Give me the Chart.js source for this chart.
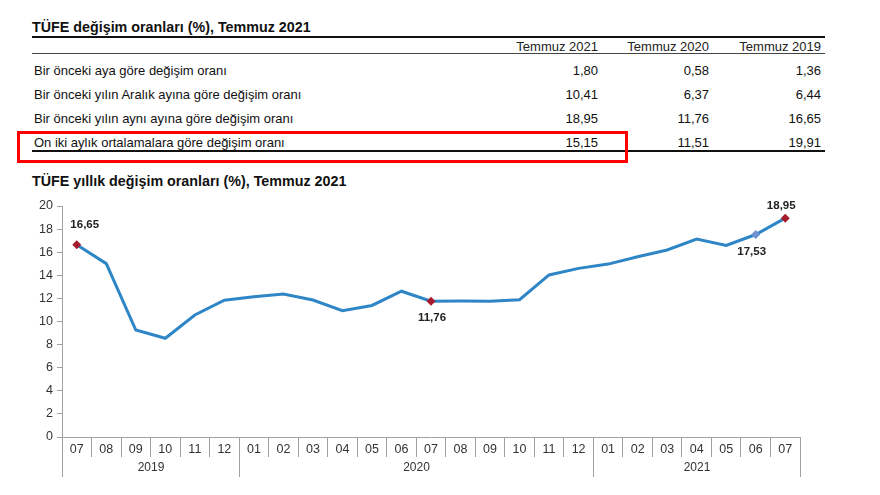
<!DOCTYPE html>
<html><head><meta charset="utf-8">
<script src="https://cdn.jsdelivr.net/npm/chart.js@4.4.1/dist/chart.umd.min.js"></script>
<style>
html,body{margin:0;padding:0;background:#fff}
body{width:880px;height:495px;overflow:hidden;position:relative;font-family:"Liberation Sans",Arial,sans-serif;color:#111}
.a{position:absolute;white-space:nowrap}
.t{font-size:13px;line-height:15px}
.r{text-align:right;width:120px}
.b{font-weight:bold;font-size:14.3px;line-height:17px}
</style></head><body>
<div id="tbl"></div>
<div class="a" style="left:0;top:190px;width:880px;height:305px"><canvas id="c"></canvas></div>
<script>
const tableTitle = 'TÜFE değişim oranları (%), Temmuz 2021';
const tableCols = ['Temmuz 2021', 'Temmuz 2020', 'Temmuz 2019'];
const tableRows = [
  'Bir önceki aya göre değişim oranı',
  'Bir önceki yılın Aralık ayına göre değişim oranı',
  'Bir önceki yılın aynı ayına göre değişim oranı',
  'On iki aylık ortalamalara göre değişim oranı'
];
const rowValues2021 = [1.80, 10.41, 18.95, 15.15];
const rowValues2020 = [0.58, 6.37, 11.76, 11.51];
const rowValues2019 = [1.36, 6.44, 16.65, 19.91];

const chartTitle = 'TÜFE yıllık değişim oranları (%), Temmuz 2021';
const months = ['07','08','09','10','11','12','01','02','03','04','05','06','07','08','09','10','11','12','01','02','03','04','05','06','07'];
const years = ['2019', '2020', '2021'];
const yearSpans = [6, 12, 7];
const annualRates = [16.65, 15.01, 9.26, 8.55, 10.56, 11.84, 12.15, 12.37, 11.86, 10.94, 11.39, 12.62, 11.76, 11.77, 11.75, 11.89, 14.03, 14.60, 14.97, 15.61, 16.19, 17.14, 16.59, 17.53, 18.95];
const labeledPoints = [0, 12, 23, 24];
const yMin = 0, yMax = 20, yStep = 2;

const fmt = v => v.toFixed(2).replace('.', ',');

// ---- table (HTML text)
const tbl = document.getElementById('tbl');
function add(html, cls, style){ const d=document.createElement('div'); d.className='a '+cls; d.setAttribute('style',style); d.textContent=html; tbl.appendChild(d); return d; }
function line(top, h, color){ const d=document.createElement('div'); d.className='a'; d.setAttribute('style',`left:32px;top:${top}px;width:793px;height:${h}px;background:${color}`); tbl.appendChild(d); }
add(tableTitle, 'b', 'left:32px;top:19px');
line(36, 2, '#111');
const colRight = [598, 709, 821];
tableCols.forEach((c,i)=>add(c, 't r', `left:${colRight[i]-120}px;top:39px;color:#222`));
line(53, 1, '#444');
const colVals = [rowValues2021, rowValues2020, rowValues2019];
const rowTops = [63, 87, 111, 135];
tableRows.forEach((r,j)=>{
  add(r, 't', `left:34px;top:${rowTops[j]}px`);
  colVals.forEach((vals,i)=>add(fmt(vals[j]), 't r', `left:${colRight[i]-120}px;top:${rowTops[j]}px`));
});
line(150, 2, '#111');
const box = document.createElement('div'); box.className='a';
box.setAttribute('style','left:17px;top:131px;width:611px;height:32px;border:3px solid #f00;box-sizing:border-box');
tbl.appendChild(box);
add(chartTitle, 'b', 'left:32px;top:173px');

// ---- chart
const RED = '#A51D2D', LBLUE = '#6E92CF';
const FONT = '"Liberation Sans", Arial, sans-serif';
const radii = annualRates.map((v,i)=>labeledPoints.includes(i)?4.5:0);
const pcolors = annualRates.map((v,i)=>i===23?LBLUE:RED);
const labelOffsets = {0:[8,-20], 12:[1,17], 23:[-4,17], 24:[-4,-12]};

const extras = {
  id: 'extras',
  afterDraw(chart){
    const {ctx, scales:{x}} = chart;
    const meta = chart.getDatasetMeta(0);
    const w = x.getPixelForValue(1) - x.getPixelForValue(0);
    const ay = x.top;
    ctx.save();
    ctx.strokeStyle = '#a0a0a0'; ctx.lineWidth = 1;
    ctx.font = '12px ' + FONT;
    ctx.fillStyle = '#333'; ctx.textAlign = 'center'; ctx.textBaseline = 'middle';
    let start = 0, x1 = 0;
    years.forEach((yr,k)=>{
      const x0 = Math.round(x.getPixelForValue(start) - w/2) + 0.5;
      x1 = Math.round(x.getPixelForValue(start + yearSpans[k] - 1) + w/2) + 0.5;
      ctx.beginPath(); ctx.moveTo(x0, ay); ctx.lineTo(x0, ay + 40); ctx.stroke();
      ctx.fillText(yr, (x0 + x1)/2, ay + 31);
      start += yearSpans[k];
    });
    ctx.beginPath(); ctx.moveTo(x1, ay); ctx.lineTo(x1, ay + 40); ctx.stroke();
    ctx.font = 'bold 11.5px ' + FONT;
    ctx.fillStyle = '#222';
    labeledPoints.forEach(i=>{
      const p = meta.data[i]; const o = labelOffsets[i];
      ctx.fillText(fmt(annualRates[i]), p.x + o[0], p.y + o[1]);
    });
    ctx.restore();
  }
};

new Chart(document.getElementById('c'), {
  type: 'line',
  data: { labels: months, datasets: [{
    data: annualRates, borderColor: '#2F86C6', borderWidth: 3, tension: 0,
    pointStyle: 'rectRot', pointRadius: radii, pointBackgroundColor: pcolors, pointBorderColor: pcolors, pointBorderWidth: 0, pointHoverRadius: radii
  }]},
  options: {
    responsive: true, maintainAspectRatio: false, animation: false,
    layout: { padding: { left: 0, top: 16, right: 80, bottom: 0 } },
    plugins: { legend: { display: false }, tooltip: { enabled: false } },
    scales: {
      x: {
        type: 'category', offset: true,
        grid: { offset: true, drawOnChartArea: false, tickLength: 20, color: '#a0a0a0' },
        border: { color: '#a0a0a0' },
        ticks: { padding: -15, maxRotation: 0, autoSkip: false, color: '#333', font: { family: FONT, size: 12.5 } },
        afterFit(s){ s.height = 58; }
      },
      y: {
        min: yMin, max: yMax,
        grid: { drawOnChartArea: false, tickLength: 5, color: '#a0a0a0' },
        border: { color: '#a0a0a0' },
        ticks: { stepSize: yStep, padding: 4, color: '#333', font: { family: FONT, size: 12.5 } },
        afterFit(s){ s.width = 62; }
      }
    }
  },
  plugins: [extras]
});
</script>
</body></html>
